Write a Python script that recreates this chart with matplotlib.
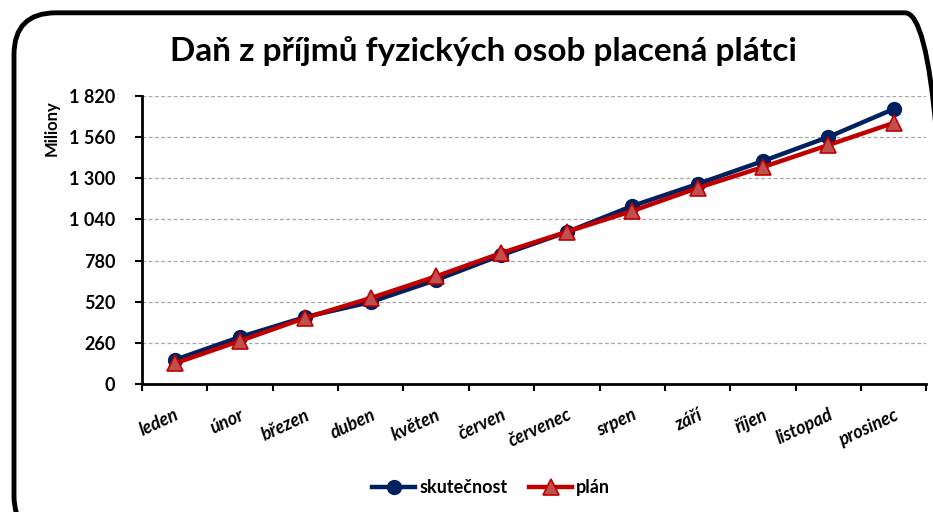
import matplotlib
matplotlib.use("Agg")
import matplotlib.pyplot as plt
from matplotlib.patches import FancyBboxPatch
from matplotlib.ticker import FixedLocator, FuncFormatter
import numpy as np

plt.rcParams['font.family'] = ['Lato', 'DejaVu Sans']
plt.rcParams['font.weight'] = 'bold'

months = ['leden', 'únor', 'březen', 'duben', 'květen', 'červen',
          'červenec', 'srpen', 'září', 'říjen', 'listopad', 'prosinec']
skutecnost = [152, 297, 423, 518, 657, 815, 960, 1125, 1264, 1409, 1561, 1738]
plan = [130, 272, 418, 543, 680, 828, 962, 1093, 1239, 1371, 1510, 1650]
y_ticks = [0, 260, 520, 780, 1040, 1300, 1560, 1820]

title = 'Daň z příjmů fyzických osob placená plátci'

fig = plt.figure(figsize=(9.33, 5.12), dpi=100)

# rounded chart frame (cut off at right/bottom like the original)
frame = FancyBboxPatch((0.015, -0.05), 1.0, 1.025,
                       boxstyle='round,pad=0,rounding_size=0.045',
                       transform=fig.transFigure, fill=False,
                       edgecolor='black', linewidth=3.5, mutation_aspect=933 / 512)
fig.patches.append(frame)

ax = fig.add_axes([0.152, 0.25, 0.841, 0.5625])
x = np.arange(len(months))

ax.plot(x, skutecnost, color='#002060', linewidth=3.2, marker='o',
        markersize=10, markerfacecolor='#002060', markeredgecolor='#002060',
        label='skutečnost', zorder=3)
ax.plot(x, plan, color='#C00000', linewidth=3.2, marker='^',
        markersize=11, markerfacecolor='#C0504D', markeredgecolor='#C00000',
        markeredgewidth=1.2, label='plán', zorder=4)

ax.set_xlim(-0.5, len(months) - 0.5)
ax.set_ylim(0, 1820)
ax.set_yticks(y_ticks)
ax.yaxis.set_major_formatter(FuncFormatter(lambda v, p: f'{int(v):,}'.replace(',', ' ')))
ax.tick_params(axis='y', labelsize=13, length=5, width=1.5, pad=14)

ax.set_xticks(x)
ax.set_xticklabels(months, rotation=25, ha='right', va='top',
                   rotation_mode='anchor', fontsize=13, fontstyle='italic')
ax.tick_params(axis='x', length=0, pad=16)
ax.xaxis.set_minor_locator(FixedLocator(np.arange(-0.5, len(months), 1.0)))
ax.tick_params(axis='x', which='minor', length=5, width=1.5)

ax.grid(axis='y', color='#a6a6a6', linestyle=(0, (3, 2)), linewidth=0.9)
ax.set_axisbelow(True)
for s in ['top', 'right']:
    ax.spines[s].set_visible(False)
for s in ['left', 'bottom']:
    ax.spines[s].set_linewidth(2)

ax.set_ylabel('Miliony', fontsize=12, fontweight='bold')
ax.yaxis.set_label_coords(-0.105, 0.89)

fig.text(0.518, 0.9, title, ha='center', va='center', fontsize=24, fontweight='bold')

ax.legend(loc='center', bbox_to_anchor=(0.445, -0.36), ncol=2, frameon=False,
          fontsize=13, handlelength=2.4, handletextpad=0.2, columnspacing=1.2,
          borderaxespad=0)

fig.savefig('out.png', dpi=100)
